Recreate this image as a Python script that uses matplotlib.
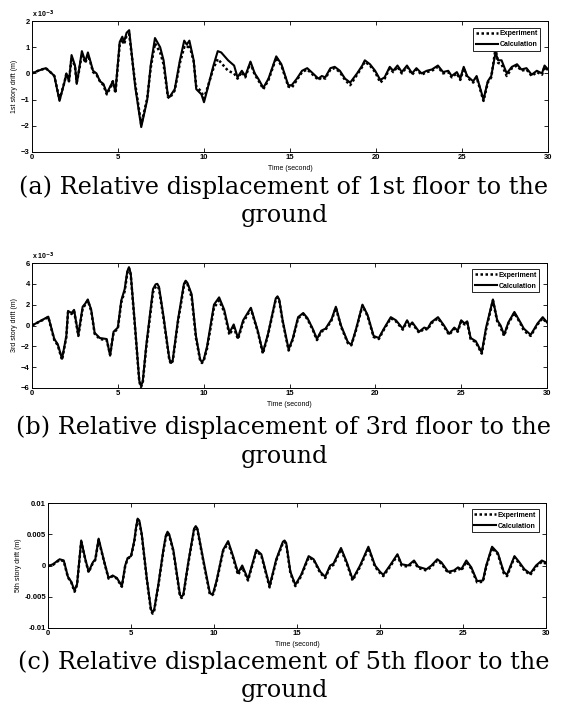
import matplotlib
matplotlib.use('Agg')
import numpy as np
import matplotlib.pyplot as plt

# story drift (panels a and b in units of 1e-3 m)
t1 = [0, 0.35, 0.8, 1.15, 1.3, 1.6, 1.9, 2.0, 2.15, 2.3, 2.5, 2.6, 2.75, 2.9,
      3.1, 3.25, 3.4, 3.55, 3.75, 3.95, 4.15, 4.35, 4.55, 4.7, 4.85, 5.1,
      5.25, 5.35, 5.5, 5.65, 6.0, 6.35, 6.7, 6.9, 7.15, 7.45, 7.65, 7.9, 8.0,
      8.3, 8.6, 8.85, 9.0, 9.15, 9.4, 9.55, 9.85, 10.0, 10.2, 10.55, 10.8,
      11.0, 11.4, 11.75, 11.95, 12.2, 12.4, 12.7, 12.95, 13.15, 13.45, 13.75,
      14.2, 14.5, 14.9, 15.1, 15.4, 15.7, 16.0, 16.25, 16.65, 16.85, 17.05,
      17.35, 17.6, 17.9, 18.2, 18.5, 18.9, 19.2, 19.35, 19.65, 19.95, 20.25,
      20.5, 20.8, 21.0, 21.25, 21.5, 21.8, 22.1, 22.35, 22.65, 22.95, 23.25,
      23.6, 23.9, 24.2, 24.4, 24.7, 24.9, 25.1, 25.3, 25.65, 25.85, 26.25,
      26.5, 26.7, 26.95, 27.1, 27.3, 27.6, 27.9, 28.2, 28.45, 28.75, 29.05,
      29.35, 29.65, 29.8, 30]
calc1 = [0, 0.1, 0.2, 0.0, -0.1, -1.05, -0.3, 0.0, -0.3, 0.7, 0.3, -0.4, 0.2,
         0.85, 0.45, 0.8, 0.45, 0.1, 0.0, -0.3, -0.4, -0.75, -0.5, -0.3, -0.7,
         1.2, 1.4, 1.2, 1.55, 1.65, -0.5, -2.05, -1.0, 0.3, 1.35, 1.0, 0.5,
         -0.85, -0.9, -0.6, 0.5, 1.25, 1.1, 1.25, 0.5, -0.6, -0.8, -1.1, -0.6,
         0.3, 0.85, 0.8, 0.5, 0.3, -0.15, 0.1, -0.1, 0.45, 0.0, -0.2, -0.55,
         -0.2, 0.65, 0.35, -0.45, -0.45, -0.2, 0.1, 0.2, 0.05, -0.2, -0.1,
         -0.15, 0.2, 0.25, 0.1, -0.2, -0.35, 0.0, 0.3, 0.5, 0.35, 0.1, -0.25,
         -0.15, 0.25, 0.1, 0.3, 0.05, 0.3, 0.0, 0.2, 0.0, 0.1, 0.15, 0.3, 0.05,
         0.1, -0.1, 0.05, -0.2, 0.25, -0.1, -0.3, -0.1, -1.0, -0.3, -0.1, 0.8,
         0.5, 0.5, 0.0, 0.25, 0.35, 0.15, 0.2, -0.05, 0.1, 0.0, 0.3, 0.15]
exp1 = [0, 0.1, 0.2, 0.0, -0.1, -1.0, -0.3, 0.0, -0.3, 0.6, 0.25, -0.35, 0.15,
        0.75, 0.4, 0.7, 0.4, 0.05, -0.05, -0.3, -0.45, -0.8, -0.55, -0.3,
        -0.75, 1.1, 1.3, 1.1, 1.45, 1.5, -0.4, -1.95, -0.95, 0.2, 1.15, 0.8,
        0.35, -0.9, -0.95, -0.65, 0.4, 1.0, 0.95, 1.1, 0.45, -0.5, -0.7,
        -0.95, -0.55, 0.2, 0.55, 0.4, 0.1, 0.0, -0.2, 0.05, -0.15, 0.4, -0.05,
        -0.25, -0.6, -0.25, 0.6, 0.3, -0.5, -0.55, -0.25, 0.05, 0.15, 0.0,
        -0.25, -0.15, -0.2, 0.15, 0.2, 0.05, -0.25, -0.45, -0.05, 0.25, 0.45,
        0.3, 0.05, -0.35, -0.2, 0.2, 0.05, 0.25, 0.0, 0.25, -0.05, 0.15, -0.05,
        0.05, 0.1, 0.25, 0.0, 0.05, -0.15, 0.0, -0.25, 0.2, -0.15, -0.35,
        -0.15, -1.05, -0.35, -0.15, 0.95, 0.4, 0.35, -0.1, 0.2, 0.3, 0.1, 0.15,
        -0.1, 0.05, -0.05, 0.25, 0.1]

t2 = [0, 0.95, 1.3, 1.5, 1.75, 2.0, 2.1, 2.3, 2.45, 2.7, 2.95, 3.1, 3.25,
      3.45, 3.65, 3.95, 4.35, 4.55, 4.75, 5.0, 5.2, 5.4, 5.55, 5.65, 5.75,
      6.0, 6.25, 6.35, 6.45, 6.65, 7.05, 7.2, 7.3, 7.4, 7.65, 8.0, 8.1, 8.2,
      8.5, 8.85, 8.95, 9.05, 9.3, 9.55, 9.8, 9.9, 10.0, 10.2, 10.6, 10.9,
      11.2, 11.5, 11.75, 12.0, 12.3, 12.75, 13.15, 13.45, 13.75, 14.2, 14.3,
      14.4, 14.6, 14.95, 15.2, 15.5, 15.8, 16.05, 16.35, 16.6, 16.85, 17.1,
      17.45, 17.7, 18.0, 18.4, 18.6, 18.85, 19.25, 19.55, 19.9, 20.2, 20.5,
      20.9, 21.2, 21.6, 21.85, 22.0, 22.15, 22.55, 22.85, 23.05, 23.25,
      23.65, 24.0, 24.3, 24.6, 24.8, 25.0, 25.2, 25.35, 25.55, 25.85, 26.2,
      26.45, 26.85, 27.1, 27.3, 27.5, 27.75, 28.1, 28.45, 28.65, 29.05,
      29.45, 29.75, 30]
calc2 = [0, 0.85, -1.3, -1.8, -3.2, -1.0, 1.4, 1.2, 1.5, -0.9, 1.8, 2.1, 2.5,
         1.5, -0.7, -1.2, -1.3, -2.9, -0.6, -0.2, 2.4, 3.5, 5.2, 5.6, 5.0,
         0.0, -5.3, -5.8, -5.4, -2.0, 3.5, 3.95, 4.0, 3.7, 1.0, -3.2, -3.6,
         -3.3, 0.5, 4.0, 4.3, 4.1, 3.0, -1.0, -3.3, -3.5, -3.3, -2.0, 2.0,
         2.7, 1.5, -0.7, 0.1, -1.2, 0.5, 1.7, -0.5, -2.6, -0.8, 2.6, 2.8, 2.5,
         0.5, -2.3, -1.2, 0.8, 1.2, 0.7, -0.3, -1.3, -0.5, -0.3, 0.6, 1.8,
         0.0, -1.6, -1.85, -0.5, 2.0, 1.0, -1.0, -1.2, -0.3, 0.8, 0.5, -0.3,
         0.5, 0.0, 0.3, -0.6, -0.2, -0.3, 0.3, 0.8, 0.0, -0.8, -0.2, -0.5, 0.5,
         0.2, 0.4, -1.2, -1.5, -2.6, -0.2, 2.5, 0.5, 0.0, -0.9, 0.3, 1.3, 0.3,
         -0.3, -0.9, 0.2, 0.8, 0.3]
exp2 = [0, 0.8, -1.4, -1.9, -3.3, -1.1, 1.3, 1.1, 1.4, -1.0, 1.6, 2.0, 2.4,
        1.4, -0.8, -1.3, -1.4, -2.8, -0.7, -0.3, 2.2, 3.3, 5.0, 5.5, 4.9,
        -0.2, -5.4, -5.9, -5.5, -2.2, 3.2, 3.7, 3.8, 3.5, 0.8, -3.3, -3.7,
        -3.4, 0.3, 3.8, 4.2, 4.0, 2.7, -1.2, -3.4, -3.6, -3.4, -2.2, 1.7, 2.4,
        1.3, -0.9, -0.2, -1.3, 0.3, 1.6, -0.6, -2.7, -0.9, 2.5, 2.7, 2.4, 0.4,
        -2.4, -1.3, 0.7, 1.1, 0.6, -0.4, -1.4, -0.6, -0.4, 0.5, 1.7, -0.1,
        -1.7, -1.9, -0.6, 1.9, 0.9, -1.1, -1.3, -0.4, 0.7, 0.4, -0.4, 0.4,
        -0.1, 0.2, -0.7, -0.3, -0.4, 0.2, 0.7, -0.1, -0.9, -0.3, -0.6, 0.4,
        0.1, 0.3, -1.3, -1.6, -2.7, -0.4, 2.4, 0.4, -0.2, -1.0, 0.2, 1.2, 0.2,
        -0.5, -1.0, 0.1, 0.7, 0.2]

# panel c in units of 1e-3 m
t3 = [0, 0.3, 0.7, 0.95, 1.2, 1.4, 1.6, 1.75, 2.0, 2.25, 2.45, 2.7, 2.85,
      3.05, 3.35, 3.65, 3.9, 4.15, 4.45, 4.65, 4.8, 5.0, 5.2, 5.3, 5.4,
      5.5, 5.65, 5.95, 6.2, 6.3, 6.4, 6.65, 6.95, 7.1, 7.2, 7.3, 7.55,
      7.95, 8.05, 8.15, 8.45, 8.8, 8.9, 9.0, 9.35, 9.75, 9.85, 9.95, 10.15,
      10.55, 10.85, 11.15, 11.45, 11.7, 12.05, 12.55, 12.85, 13.35, 13.75,
      14.15, 14.25, 14.35, 14.6, 14.9, 15.25, 15.7, 16.0, 16.4, 16.7, 17.0,
      17.2, 17.65, 18.0, 18.35, 18.8, 19.3, 19.7, 20.0, 20.2, 20.6, 21.05,
      21.3, 21.7, 22.05, 22.3, 22.8, 23.1, 23.45, 23.7, 24.1, 24.45, 24.7,
      24.9, 25.2, 25.5, 25.85, 26.2, 26.4, 26.75, 27.1, 27.45, 27.65, 28.1,
      28.4, 28.7, 29.05, 29.4, 29.75, 29.9, 30]
calc3 = [-0.1, 0.2, 1.0, 0.8, -1.8, -2.6, -4.0, -3.0, 4.0, 1.0, -1.0, 0.5,
         1.0, 4.3, 1.0, -2.0, -1.6, -2.0, -3.3, 0.0, 1.2, 1.5, 4.0, 6.0, 7.5,
         7.2, 5.0, -2.0, -7.0, -7.5, -7.0, -3.0, 2.5, 4.8, 5.4, 5.0, 2.5,
         -4.7, -5.0, -4.7, 0.5, 5.9, 6.3, 5.9, 1.0, -4.4, -4.6, -4.4, -2.5,
         2.5, 3.9, 1.5, -1.2, 0.0, -2.2, 2.5, 1.8, -3.3, 1.0, 3.8, 4.0, 3.6,
         -1.0, -3.1, -1.5, 1.5, 1.0, -1.0, -1.8, 0.0, 0.3, 2.8, 0.5, -2.2,
         0.0, 3.0, 0.0, -1.0, -1.5, 0.0, 1.8, 0.2, 0.0, 0.8, -0.2, -0.6, 0.0,
         1.0, 0.5, -1.0, -0.8, -0.3, -0.6, 0.8, -0.3, -2.5, -2.4, 0.0, 3.0,
         2.0, -1.0, -1.5, 1.5, 0.5, -0.6, -1.3, 0.0, 0.8, 0.6, 0.5]
exp3 = [-0.1, 0.1, 0.9, 0.7, -1.9, -2.7, -4.2, -3.1, 3.8, 0.9, -1.1, 0.4,
        0.9, 4.1, 0.9, -2.1, -1.7, -2.1, -3.4, -0.1, 1.1, 1.4, 3.8, 5.8, 7.3,
        7.0, 4.8, -2.2, -7.2, -7.7, -7.2, -3.2, 2.3, 4.6, 5.2, 4.8, 2.3,
        -4.9, -5.2, -4.9, 0.3, 5.7, 6.1, 5.7, 0.8, -4.6, -4.8, -4.6, -2.7,
        2.3, 3.6, 1.2, -1.5, -0.3, -2.4, 2.3, 1.6, -3.5, 0.8, 3.6, 3.8, 3.4,
        -1.2, -3.3, -1.7, 1.3, 0.9, -1.2, -2.0, -0.2, 0.1, 2.6, 0.3, -2.4,
        -0.2, 2.8, -0.2, -1.2, -1.7, -0.2, 1.6, 0.0, -0.2, 0.6, -0.4, -0.8,
        -0.2, 0.8, 0.3, -1.2, -1.0, -0.5, -0.8, 0.6, -0.5, -2.7, -2.6, -0.2,
        2.8, 1.8, -1.2, -1.7, 1.3, 0.3, -0.8, -1.5, -0.2, 0.6, 0.4, 0.3]

ylabels = ['1st story drift (m)', '3rd story drift (m)', '5th story drift (m)']
captions = ['(a) Relative displacement of 1st floor to the',
            '(b) Relative displacement of 3rd floor to the',
            '(c) Relative displacement of 5th floor to the']

# scanned MATLAB figure: small heavy sans labels
plt.rcParams['font.family'] = ['Liberation Sans', 'DejaVu Sans']
plt.rcParams['font.weight'] = 'bold'

fig = plt.figure(figsize=(5.66, 7.03), dpi=100)
W, H = 566.0, 703.0


def make_axes(left, right, top, bottom):
    return fig.add_axes([left / W, 1 - bottom / H, (right - left) / W,
                         (bottom - top) / H])


ax1 = make_axes(32, 548, 21, 152)
ax2 = make_axes(32, 547, 263, 388)
ax3 = make_axes(48, 546, 503, 628)

series = [(ax1, t1, exp1, calc1, 1.0), (ax2, t2, exp2, calc2, 1.0),
          (ax3, t3, exp3, calc3, 1e-3)]
for i, (ax, t, e, c, scale) in enumerate(series):
    ax.plot(t, np.array(e) * scale, color='black', ls=(0, (1, 1)), lw=1.8,
            label='Experiment')
    ax.plot(t, np.array(c) * scale, color='black', ls='-', lw=1.5,
            label='Calculation')
    ax.set_xlim(0, 30)
    ax.set_xticks([0, 5, 10, 15, 20, 25, 30])
    ax.tick_params(direction='in', top=True, right=True, length=3, width=0.6,
                   labelsize=5.5, pad=1.5)
    for sp in ax.spines.values():
        sp.set_linewidth(0.7)
    ax.set_ylabel(ylabels[i], fontsize=5, labelpad=2)
    ax.set_xlabel('Time (second)', fontsize=5, labelpad=3)
    leg = ax.legend(loc='upper right', bbox_to_anchor=(0.985, 0.95),
                    fontsize=5, fancybox=False, edgecolor='black',
                    framealpha=1, borderaxespad=0, handlelength=3.2,
                    borderpad=0.35, labelspacing=0.6, handletextpad=0.2)
    leg.get_frame().set_linewidth(0.6)

ax1.set_ylim(-3, 2)
ax1.set_yticks([-3, -2, -1, 0, 1, 2])
ax2.set_ylim(-6, 6)
ax2.set_yticks([-6, -4, -2, 0, 2, 4, 6])
ax3.set_ylim(-0.01, 0.01)
ax3.set_yticks([-0.01, -0.005, 0, 0.005, 0.01])
ax3.set_yticklabels(['-0.01', '-0.005', '0', '0.005', '0.01'])
for ax in (ax1, ax2):
    ax.text(0.0, 1.01, r'x 10$^{-3}$', transform=ax.transAxes, fontsize=5,
            ha='left', va='bottom')

# captions under each panel
cap_y = [(187, 216), (427, 457), (662, 691)]
for cap, (y1, y2) in zip(captions, cap_y):
    fig.text(284 / W, 1 - y1 / H, cap, ha='center', va='center',
             fontsize=17.2, family='DejaVu Serif', fontweight='normal')
    fig.text(284 / W, 1 - y2 / H, 'ground', ha='center', va='center',
             fontsize=17.2, family='DejaVu Serif', fontweight='normal')

fig.savefig('out.png', dpi=100)
